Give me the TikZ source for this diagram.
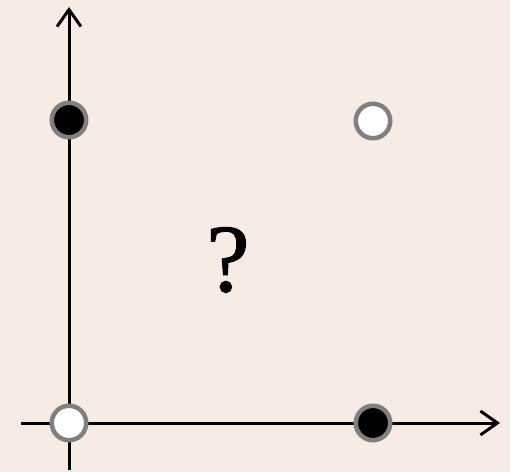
\documentclass[tikz,border=0pt]{standalone}
\usepackage{fontspec}
\newfontfamily\qfont{Liberation Serif}[FakeBold=1.2]
\usetikzlibrary{arrows.meta}
\definecolor{bg}{RGB}{246,236,229}
\definecolor{ring}{RGB}{128,128,128}
\begin{document}
\begin{tikzpicture}[x=1bp,y=-1bp,
  axis/.style={line width=3bp,-{Straight Barb[length=17bp,width=24bp,line width=3bp]}},
  dotblack/.style={circle,fill=black,draw=ring,line width=4.5bp,minimum size=34.5bp,inner sep=0pt},
  dotwhite/.style={circle,fill=white,draw=ring,line width=4.5bp,minimum size=34.5bp,inner sep=0pt}]
\fill[bg] (0,0) rectangle (510,472);
\useasboundingbox (0,0) rectangle (510,472);
\coordinate (ybot) at (69,470);
\coordinate (ytop) at (69,7);
\coordinate (xl) at (21,423);
\coordinate (xr) at (500,423);
\draw[axis] (ybot) -- (ytop);
\draw[axis] (xl) -- (xr);
\node[dotblack] (a) at (69,120) {};
\node[dotwhite] (b) at (373,121) {};
\node[dotwhite] (c) at (69,423) {};
\node[dotblack] (d) at (373,423) {};
\node[font=\qfont\fontsize{97}{100}\selectfont,inner sep=0pt] (q) at (228,260) {?};
\end{tikzpicture}
\end{document}
